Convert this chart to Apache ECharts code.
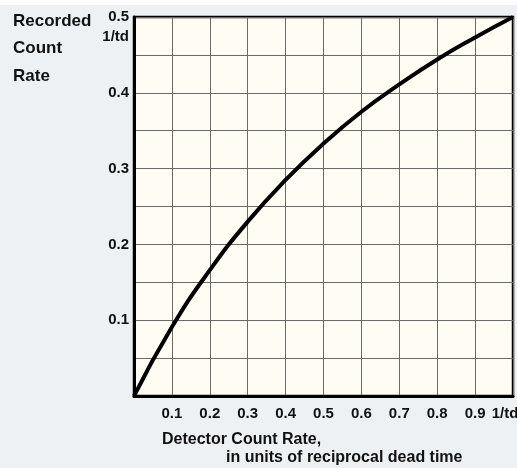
<!DOCTYPE html>
<html><head><meta charset="utf-8">
<script src="https://cdn.jsdelivr.net/npm/echarts@6/dist/echarts.min.js"></script>
<style>html,body{margin:0;padding:0;background:#eef1f4;}#c{width:517px;height:468px;}</style>
</head><body><div id="c"></div>
<script>
const xValues = [0, 0.1, 0.2, 0.3, 0.4, 0.5, 0.6, 0.7, 0.8, 0.9, 1.0];
const yValues = [0, 0.091, 0.166, 0.230, 0.285, 0.333, 0.375, 0.411, 0.444, 0.473, 0.5];
const yTitleLines = ['Recorded', 'Count', 'Rate'];
const xTitleLines = ['Detector Count Rate,', 'in units of reciprocal dead time'];
const topUnit = '1/td';
const rightUnit = '1/td';

const font = 'Liberation Sans, Arial, Helvetica, sans-serif';
const chart = echarts.init(document.getElementById('c'));
chart.setOption({
  backgroundColor: '#eef1f4',
  animation: false,
  grid: {left: 134, top: 17, width: 379, height: 379, show: true,
         outerBoundsMode: 'none', containLabel: false,
         backgroundColor: '#fffdf3', borderColor: '#000', borderWidth: 2.5},
  xAxis: {
    type: 'value', min: 0, max: 1, interval: 0.1,
    axisLine: {show: true, lineStyle: {color: '#000', width: 3}},
    axisTick: {show: false},
    splitLine: {show: true, lineStyle: {color: '#6e6868', width: 1}},
    axisLabel: {
      color: '#111', fontFamily: font, fontWeight: 'bold', fontSize: 15, margin: 10,
      showMaxLabel: true, hideOverlap: false,
      formatter: v => v === 0 ? '' : (Math.abs(v - 1) < 1e-9 ? '{u|' + rightUnit + '}' : v.toFixed(1)),
      rich: {u: {fontFamily: font, fontWeight: 'bold', fontSize: 15, color: '#111', padding: [0, 16, 0, 0]}}
    }
  },
  yAxis: {
    type: 'value', min: 0, max: 0.5, interval: 0.05,
    axisLine: {show: true, lineStyle: {color: '#000', width: 3}},
    axisTick: {show: false},
    splitLine: {show: true, lineStyle: {color: '#6e6868', width: 1}},
    axisLabel: {
      color: '#111', fontFamily: font, fontWeight: 'bold', fontSize: 15, margin: 5,
      showMaxLabel: true,
      formatter: v => {
        const k = Math.round(v * 100);
        if (k === 0 || k % 10 !== 0) return '';
        return (k / 100).toFixed(1);
      }
    }
  },
  series: [{
    type: 'line', smooth: true, symbol: 'none',
    data: xValues.map((x, i) => [x, yValues[i]]),
    lineStyle: {color: '#000', width: 4}
  }],
  graphic: [
    {type: 'rect', left: 0, top: 0, shape: {width: 517, height: 5}, style: {fill: '#ffffff'}, z: -1},
    {type: 'text', style: {x: 129, y: 37, text: topUnit, align: 'right', verticalAlign: 'middle', fill: '#111', font: 'bold 15px ' + font}},
    {type: 'text', style: {x: 13, y: 21, text: yTitleLines[0], verticalAlign: 'middle', fill: '#111', font: 'bold 17px ' + font}},
    {type: 'text', style: {x: 13, y: 48, text: yTitleLines[1], verticalAlign: 'middle', fill: '#111', font: 'bold 17px ' + font}},
    {type: 'text', style: {x: 13, y: 76, text: yTitleLines[2], verticalAlign: 'middle', fill: '#111', font: 'bold 17px ' + font}},
    {type: 'text', style: {x: 162, y: 440, text: xTitleLines[0], verticalAlign: 'middle', fill: '#111', font: 'bold 16px ' + font}},
    {type: 'text', style: {x: 226, y: 458, text: xTitleLines[1], verticalAlign: 'middle', fill: '#111', font: 'bold 16px ' + font}}
  ]
});
</script></body></html>
